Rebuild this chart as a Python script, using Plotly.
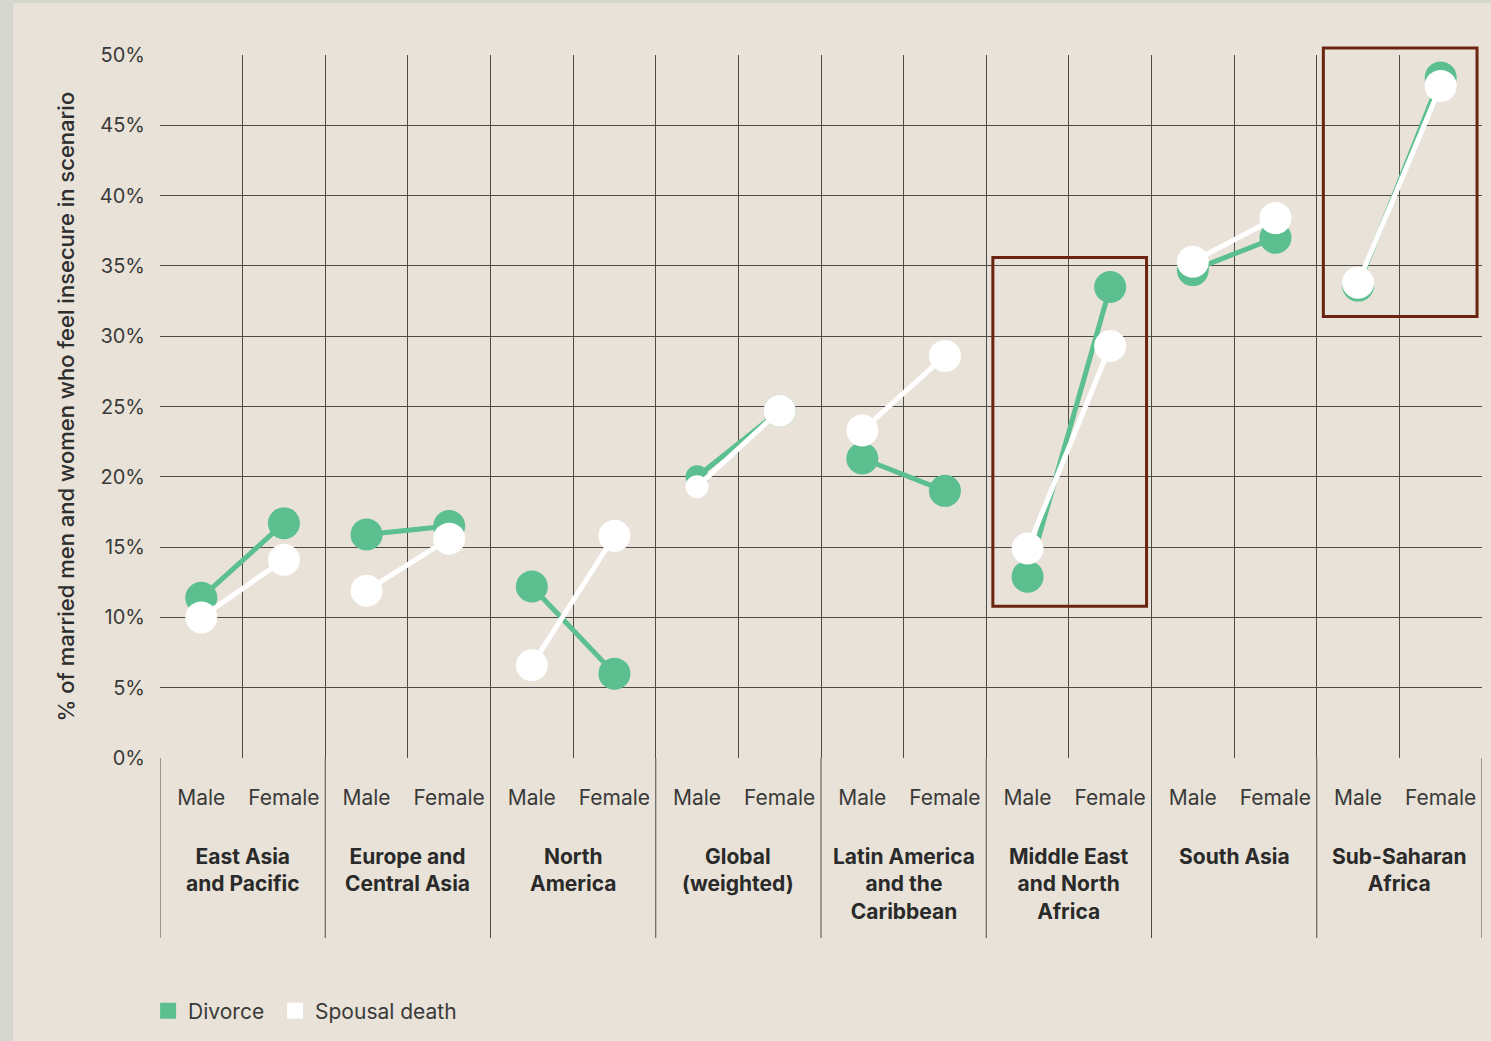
import plotly.graph_objects as go

# ---------------- data ----------------
regions = ["East Asia<br>and Pacific", "Europe and<br>Central Asia", "North<br>America",
           "Global<br>(weighted)", "Latin America<br>and the<br>Caribbean",
           "Middle East<br>and North<br>Africa", "South Asia", "Sub-Saharan<br>Africa"]
genders = ["Male", "Female"]
series_names = ["Divorce", "Spousal death"]
divorce_male = [11.4, 15.9, 12.2, 20.0, 21.3, 12.9, 34.7, 33.6]
divorce_female = [16.7, 16.5, 6.0, 24.7, 19.0, 33.5, 37.0, 48.4]
death_male = [10.0, 11.9, 6.6, 19.3, 23.3, 14.9, 35.3, 33.8]
death_female = [14.1, 15.6, 15.8, 24.7, 28.6, 29.3, 38.4, 47.8]
y_ticks = [0, 5, 10, 15, 20, 25, 30, 35, 40, 45, 50]
highlighted = ["Middle East<br>and North<br>Africa", "Sub-Saharan<br>Africa"]
highlight_ranges = [(10.8, 35.6), (31.4, 50.5)]

# ---------------- style ----------------
BG = "#e8e2d8"
STRIP = "#d6d8cf"
GREEN = "#5cbf8f"
WHITE = "#ffffff"
GRID = "#4d4b45"
BOX = "#6b2410"
TXT = "#3a3a3a"
FONT = "Inter"

n = len(regions)
YMAX = 50


def series(male, female):
    xs, ys = [], []
    for i in range(n):
        xs += [2 * i + 0.5, 2 * i + 1.5, None]
        ys += [male[i], female[i], None]
    return xs, ys


def sizes():
    s = []
    for i in range(n):
        small = regions[i].startswith("Global")
        s += [23 if small else 32, 32, 0]
    return s


fig = go.Figure()
legend_labels = [series_names[0] + "\u00a0", series_names[1]]
for name, m, f, col in [(legend_labels[0], divorce_male, divorce_female, GREEN),
                        (legend_labels[1], death_male, death_female, WHITE)]:
    xs, ys = series(m, f)
    fig.add_trace(go.Scatter(x=xs, y=ys, mode="lines+markers", showlegend=False,
                             line=dict(color=col, width=5),
                             marker=dict(color=col, size=sizes(), opacity=1, line=dict(width=0)),
                             hoverinfo="skip"))
    fig.add_trace(go.Scatter(x=[None], y=[None], mode="markers", name=name,
                             marker=dict(symbol="square", size=17, color=col, opacity=1,
                                         line=dict(width=0))))

# separators extending below the plot
for i in range(n + 1):
    fig.add_shape(type="line", xref="x", yref="paper", x0=2 * i, x1=2 * i, y0=-0.256, y1=0,
                  line=dict(color=GRID, width=1), layer="below")

# category labels
for i, r in enumerate(regions):
    fig.add_annotation(x=2 * i + 1, xref="x", y=-0.12, yref="paper", yanchor="top",
                       text="<b>" + r + "</b>", showarrow=False,
                       font=dict(family=FONT, size=21, color="#2a2a2a"), align="center")

# highlight boxes
for r, (y0, y1) in zip(highlighted, highlight_ranges):
    i = regions.index(r)
    fig.add_shape(type="rect", xref="x domain", yref="y domain",
                  x0=(2 * i + 0.08) / (2 * n), x1=(2 * i + 1.94) / (2 * n),
                  y0=y0 / YMAX, y1=y1 / YMAX, line=dict(color=BOX, width=3), layer="above")

# left/top strip
fig.add_shape(type="rect", xref="paper", yref="paper", x0=-0.2, x1=(13 - 160) / 1322,
              y0=-0.5, y1=1.2, fillcolor=STRIP, line=dict(width=0), layer="below")
fig.add_shape(type="rect", xref="paper", yref="paper", x0=-0.2, x1=1.1,
              y0=1 + 52 / 703, y1=1.2, fillcolor=STRIP, line=dict(width=0), layer="below")

# y title
fig.add_annotation(x=(65 - 160) / 1322, xref="paper", xanchor="center",
                   y=0.5, yref="paper", yanchor="middle", textangle=-90,
                   text="% of married men and women who feel insecure in scenario",
                   showarrow=False,
                   font=dict(family=FONT, size=22, color="#2e2e2e", weight=500))

tickvals = [2 * i + 0.5 + j for i in range(n) for j in range(2)]
ticktext = [g for i in range(n) for g in genders]

fig.update_layout(
    width=1491, height=1041,
    margin=dict(l=160, r=9, t=55, b=283),
    paper_bgcolor=BG, plot_bgcolor=BG,
    font=dict(family=FONT, size=20, color=TXT),
    xaxis=dict(range=[0, 2 * n], tickvals=tickvals, ticktext=ticktext, showgrid=False,
               zeroline=False, showline=False, ticks="outside", ticklen=21,
               tickcolor="rgba(0,0,0,0)", tickfont=dict(size=21, color=TXT),
               minor=dict(tickmode="linear", tick0=0, dtick=1, showgrid=True,
                          gridcolor=GRID, gridwidth=1)),
    yaxis=dict(range=[0, YMAX], tickvals=y_ticks, ticktext=[f"{v}%" for v in y_ticks],
               showgrid=True, gridcolor=GRID, gridwidth=1, zeroline=False,
               ticks="outside", ticklen=10, tickcolor="rgba(0,0,0,0)",
               tickfont=dict(size=20, color=TXT)),
    legend=dict(orientation="h", x=-0.009, xanchor="left", y=-0.36, yanchor="middle",
                font=dict(size=21, color=TXT), bgcolor="rgba(0,0,0,0)", itemclick=False),
    showlegend=True,
)

fig.write_html("out.html", config={"displayModeBar": False},
               post_script="document.body.style.margin='0';document.body.style.overflow='hidden';")
